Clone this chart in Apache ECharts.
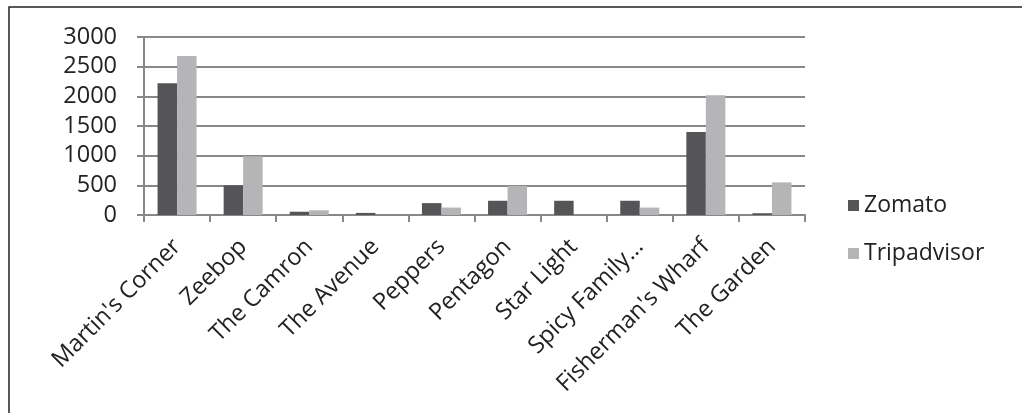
<!DOCTYPE html>
<html>
<head>
<meta charset="utf-8">
<script src="https://cdn.jsdelivr.net/npm/echarts@6/dist/echarts.min.js"></script>
<style>
  html, body { margin: 0; padding: 0; background: #fff; }
  #main { width: 1022px; height: 413px; }
</style>
</head>
<body>
<div id="main"></div>
<script>
// restaurants and review counts
var categories = ["Martin's Corner", 'Zeebop', 'The Camron', 'The Avenue', 'Peppers',
    'Pentagon', 'Star Light', 'Spicy Family...', "Fisherman's Wharf", 'The Garden'];
var zomato = [2220, 500, 55, 35, 200, 240, 240, 240, 1400, 30];
var tripadvisor = [2680, 990, 80, 0, 125, 490, 0, 125, 2020, 550];
var yTicks = [0, 500, 1000, 1500, 2000, 2500, 3000];

var myChart = echarts.init(document.getElementById('main'));
var fontFam = '"Open Sans", "Noto Sans", sans-serif';

var option = {
    animation: false,
    backgroundColor: '#fff',
    textStyle: { fontFamily: fontFam },
    graphic: [{
        type: 'rect',
        shape: { x: 9, y: 7, width: 1100, height: 500 },
        style: { fill: 'none', stroke: '#222', lineWidth: 1.5 },
        silent: true
    }],
    legend: {
        data: ['Zomato', 'Tripadvisor'],
        orient: 'vertical',
        left: 843,
        top: 189,
        itemWidth: 11,
        itemHeight: 11,
        itemGap: 25,
        icon: 'rect',
        textStyle: { fontSize: 23, color: '#222', fontFamily: fontFam }
    },
    grid: { left: 144, right: 217, top: 37, bottom: 198, containLabel: false },
    xAxis: {
        type: 'category',
        data: categories,
        axisLine: { lineStyle: { color: '#888', width: 2 } },
        axisTick: { show: true, length: 7, lineStyle: { color: '#888', width: 2 } },
        axisLabel: {
            rotate: 45, interval: 0, margin: 28,
            fontSize: 23.5, color: '#222', fontFamily: fontFam
        }
    },
    yAxis: {
        type: 'value',
        min: yTicks[0],
        max: yTicks[yTicks.length - 1],
        interval: 500,
        axisLine: { show: true, lineStyle: { color: '#888', width: 2 } },
        axisTick: { show: true, length: 7, lineStyle: { color: '#888', width: 2 } },
        splitLine: { lineStyle: { color: '#888', width: 2 } },
        axisLabel: {
            margin: 27, fontSize: 23.5, color: '#222', fontFamily: fontFam,
            formatter: function (v) { return String(v); }
        }
    },
    series: [{
        name: 'Zomato',
        type: 'bar',
        data: zomato,
        barGap: '0%',
        barCategoryGap: '41%',
        itemStyle: { color: '#555557' }
    }, {
        name: 'Tripadvisor',
        type: 'bar',
        data: tripadvisor,
        itemStyle: { color: '#b5b5b7' }
    }]
};

myChart.setOption(option);
</script>
</body>
</html>
